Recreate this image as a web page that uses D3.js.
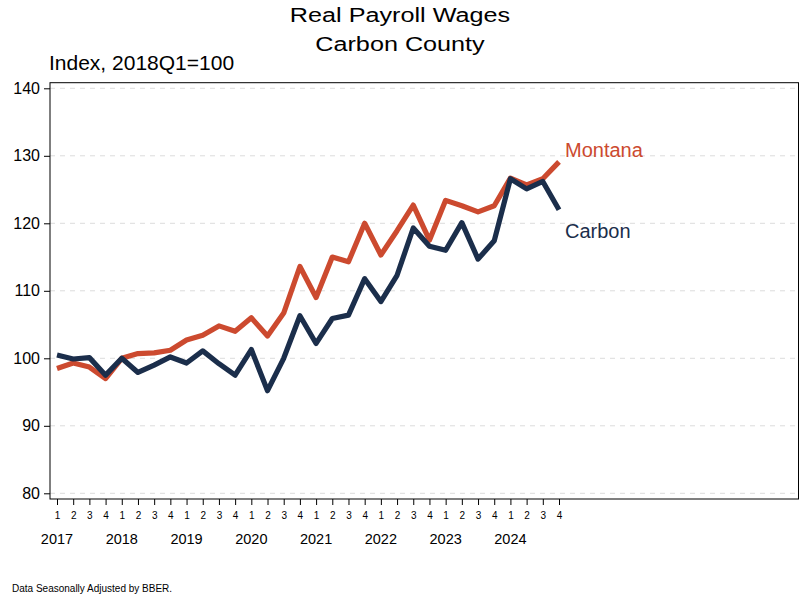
<!DOCTYPE html>
<html><head><meta charset="utf-8">
<script src="https://cdn.jsdelivr.net/npm/d3@7"></script>
<style>body{margin:0;background:#fff}svg{display:block}text{font-family:"Liberation Sans",Arial,sans-serif}</style>
</head><body><svg id="c" width="800" height="600"></svg>
<script>
const years = ["2017","2018","2019","2020","2021","2022","2023","2024"];
const quarterLabels = ["1","2","3","4"];
const carbon = [100.5,99.9,100.1,97.5,100.0,97.9,99.0,100.2,99.3,101.1,99.2,97.5,101.3,95.2,100.0,106.3,
                102.2,105.9,106.4,111.8,108.4,112.3,119.3,116.6,116.0,120.1,114.7,117.4,126.6,125.1,126.2,122.0];
const montana = [98.5,99.3,98.7,97.0,100.0,100.7,100.8,101.2,102.7,103.4,104.8,104.0,106.0,103.3,106.7,113.6,
                 109.0,115.0,114.3,120.0,115.3,118.9,122.7,117.5,123.4,122.6,121.7,122.6,126.7,125.7,126.6,129.1];
const yTicks = [80,90,100,110,120,130,140];

const svg = d3.select("#c");
const L = 50, R = 798.5, T = 82.7, B = 499;
const n = carbon.length;
const x = d3.scaleLinear().domain([0, n-1]).range([57, 559]);
const y = d3.scaleLinear().domain([80,140]).range([493.3, 88.3]);

// gridlines
svg.append("g").selectAll("line").data(yTicks).join("line")
  .attr("x1", L).attr("x2", R).attr("y1", d=>y(d)).attr("y2", d=>y(d))
  .attr("stroke", "#dcdcdc").attr("stroke-width", 1).attr("stroke-dasharray", "5,5");

// lines
const line = d3.line().x((d,i)=>x(i)).y(d=>y(d));
svg.append("path").datum(montana).attr("d", line).attr("fill","none")
  .attr("stroke","#cc4a2f").attr("stroke-width",5.2).attr("stroke-linejoin","round");
svg.append("path").datum(carbon).attr("d", line).attr("fill","none")
  .attr("stroke","#1b2e4b").attr("stroke-width",5.2).attr("stroke-linejoin","round");

// frame
svg.append("rect").attr("x", L).attr("y", T).attr("width", R-L).attr("height", B-T)
  .attr("fill","none").attr("stroke","#000").attr("stroke-width",1);

// y axis
const yAxis = svg.append("g").attr("transform", `translate(${L},0)`)
  .call(d3.axisLeft(y).tickValues(yTicks).tickSize(6).tickPadding(4).tickFormat(d3.format("d")));
yAxis.select(".domain").remove();
yAxis.selectAll("text").attr("font-size", 16).attr("fill","#000").attr("font-family","Liberation Sans, Arial, sans-serif");
yAxis.selectAll("line").attr("stroke","#000");

// x axis
const idx = d3.range(n);
const xAxis = svg.append("g").attr("transform", `translate(0,${B})`)
  .call(d3.axisBottom(x).tickValues(idx).tickSize(6).tickPadding(7).tickFormat(i=>quarterLabels[i%4]));
xAxis.select(".domain").remove();
xAxis.selectAll("text").attr("font-size", 10).attr("fill","#000").attr("font-family","Liberation Sans, Arial, sans-serif");
xAxis.selectAll("line").attr("stroke","#000");

svg.append("g").selectAll("text").data(years).join("text")
  .attr("x", (d,i)=>x(i*4)).attr("y", 544).attr("text-anchor","middle")
  .attr("font-size", 14.5).attr("fill","#000").text(d=>d);

// series labels
svg.append("text").attr("x", 565).attr("y", 157).attr("font-size", 20).attr("fill","#cc4a2f").text("Montana");
svg.append("text").attr("x", 565).attr("y", 238).attr("font-size", 20).attr("fill","#1b2e4b").text("Carbon");

// titles
svg.append("text").attr("transform","translate(400,22) scale(1.2,1)").attr("text-anchor","middle")
  .attr("font-size", 21).attr("fill","#000").text("Real Payroll Wages");
svg.append("text").attr("transform","translate(400,51) scale(1.2,1)").attr("text-anchor","middle")
  .attr("font-size", 21).attr("fill","#000").text("Carbon County");
svg.append("text").attr("x", 49).attr("y", 70).attr("font-size", 21).attr("fill","#000").text("Index, 2018Q1=100");

svg.append("text").attr("x", 12).attr("y", 592).attr("font-size", 10).attr("fill","#000").text("Data Seasonally Adjusted by BBER.");
</script></body></html>
